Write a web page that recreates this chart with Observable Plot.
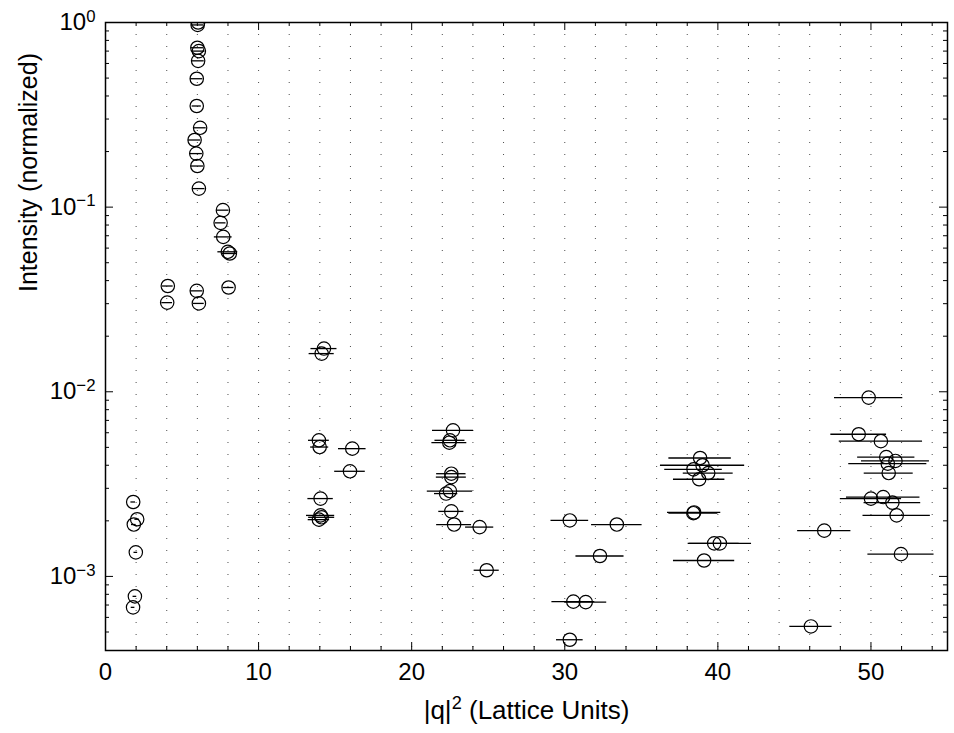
<!DOCTYPE html>
<html><head><meta charset="utf-8">
<script src="https://cdn.jsdelivr.net/npm/d3@7"></script>
<script src="https://cdn.jsdelivr.net/npm/@observablehq/plot@0.6"></script>
<style>body{margin:0;background:#fff} svg{display:block}</style>
</head><body><div id="chart"></div>
<script>
// |q|^2 values (lattice units)
const qsq = [
  1.81, 2.07, 1.85, 1.98, 1.92, 1.80,
  4.07, 4.03,
  6.05, 6.02, 6.00, 6.10, 6.05, 5.96, 5.96, 6.18, 5.82, 5.93, 6.00, 6.10, 5.96, 6.10,
  7.67, 7.52, 7.69, 7.99, 8.12, 8.04,
  14.27, 14.12, 13.94, 13.99, 16.12, 15.97, 14.05, 14.05, 14.12, 13.94,
  22.70, 22.50, 22.46, 22.59, 22.59, 22.50, 22.25, 22.59, 22.77, 24.44, 24.90,
  30.33, 33.40, 32.30, 30.56, 31.37, 30.33,
  38.84, 39.00, 38.41, 39.37, 38.78, 38.45, 38.40, 39.76, 40.13, 39.10,
  49.85, 49.20, 50.65, 51.00, 51.60, 51.10, 51.16, 50.00, 50.80, 51.40, 51.68, 46.95, 51.96, 46.08
];
// normalized intensity
const intensity = [
  2.53e-3, 2.04e-3, 1.91e-3, 1.35e-3, 7.8e-4, 6.8e-4,
  0.0374, 0.0304,
  1.0, 0.97, 0.73, 0.70, 0.62, 0.496, 0.353, 0.269, 0.231, 0.195, 0.167, 0.126, 0.0352, 0.0301,
  0.0963, 0.0822, 0.069, 0.0573, 0.0561, 0.0367,
  0.01714, 0.0161, 5.46e-3, 5.02e-3, 4.92e-3, 3.71e-3, 2.64e-3, 2.14e-3, 2.09e-3, 2.03e-3,
  6.18e-3, 5.46e-3, 5.3e-3, 3.6e-3, 3.45e-3, 2.90e-3, 2.81e-3, 2.25e-3, 1.91e-3, 1.85e-3, 1.08e-3,
  2.01e-3, 1.91e-3, 1.29e-3, 7.3e-4, 7.26e-4, 4.54e-4,
  4.38e-3, 4.0e-3, 3.80e-3, 3.63e-3, 3.36e-3, 2.22e-3, 2.20e-3, 1.51e-3, 1.51e-3, 1.22e-3,
  9.3e-3, 5.89e-3, 5.4e-3, 4.43e-3, 4.22e-3, 4.08e-3, 3.63e-3, 2.64e-3, 2.69e-3, 2.51e-3, 2.14e-3, 1.77e-3, 1.32e-3, 5.36e-4
];
// horizontal (|q|^2) error half-widths
const qErr = [
  0.15, 0.15, 0.15, 0.12, 0.12, 0.12,
  0.35, 0.35,
  0.40, 0.40, 0.40, 0.40, 0.40, 0.40, 0.30, 0.40, 0.40, 0.40, 0.40, 0.40, 0.40, 0.35,
  0.40, 0.35, 0.58, 0.65, 0.50, 0.35,
  0.85, 0.82, 0.68, 0.59, 0.90, 1.00, 0.83, 0.92, 0.85, 0.70,
  1.34, 0.98, 1.14, 0.96, 0.98, 1.48, 0.76, 0.82, 1.14, 0.92, 0.82,
  1.23, 1.65, 1.57, 1.40, 1.37, 0.87,
  2.04, 2.75, 1.88, 1.63, 1.68, 1.74, 1.60, 1.63, 2.07, 2.00,
  2.23, 1.82, 2.72, 1.87, 2.22, 2.55, 1.60, 2.00, 2.40, 1.85, 2.20, 1.74, 2.16, 1.38
];

const xMajorTicks = [0, 10, 20, 30, 40, 50];
const xMinorTicks = [2, 4, 6, 8, 12, 14, 16, 18, 22, 24, 26, 28, 32, 34, 36, 38, 42, 44, 46, 48, 52, 54];
const xGridLines = [2, 4, 6, 8, 10, 12, 14, 16, 18, 20, 22, 24, 26, 28, 30, 32, 34, 36, 38, 40, 42, 44, 46, 48, 50, 52, 54];
const yMajorTicks = [1, 0.1, 0.01, 0.001];
const yTickLabels = ["10^0", "10^\u22121", "10^\u22122", "10^\u22123"];
const yMinorTicks = [
  0.9, 0.8, 0.7, 0.6, 0.5, 0.4, 0.3, 0.2,
  0.09, 0.08, 0.07, 0.06, 0.05, 0.04, 0.03, 0.02,
  0.009, 0.008, 0.007, 0.006, 0.005, 0.004, 0.003, 0.002,
  0.0009, 0.0008, 0.0007, 0.0006, 0.0005
];
const xLabel = "|q|^2 (Lattice Units)";
const yLabel = "Intensity (normalized)";

const data = qsq.map((q, i) => ({q, I: intensity[i], e: qErr[i]}));

const W = 954, H = 733, mL = 105, mR = 7, mT = 22, mB = 83;
const fh = H - mT - mB, fw = W - mL - mR;
const font = "'Liberation Sans', Arial, Helvetica, sans-serif";

const chart = Plot.plot({
  width: W, height: H,
  marginLeft: mL, marginRight: mR, marginTop: mT, marginBottom: mB,
  style: {fontFamily: font, fontSize: "24px", color: "black", background: "white"},
  x: {domain: [0, 55]},
  y: {type: "log", domain: [3.97e-4, 1]},
  marks: [
    Plot.ruleX(xGridLines, {stroke: "#000", strokeOpacity: 0.7, strokeWidth: 1, strokeDasharray: "1,11"}),
    Plot.ruleX(xMajorTicks, {insetTop: fh - 8, stroke: "black", strokeWidth: 1}),
    Plot.ruleX(xMajorTicks, {insetBottom: fh - 8, stroke: "black", strokeWidth: 1}),
    Plot.ruleX(xMinorTicks, {insetTop: fh - 4, stroke: "black", strokeWidth: 1}),
    Plot.ruleX(xMinorTicks, {insetBottom: fh - 4, stroke: "black", strokeWidth: 1}),
    Plot.ruleY(yMajorTicks, {insetRight: fw - 8, stroke: "black", strokeWidth: 1}),
    Plot.ruleY(yMajorTicks, {insetLeft: fw - 8, stroke: "black", strokeWidth: 1}),
    Plot.ruleY(yMinorTicks, {insetRight: fw - 4, stroke: "black", strokeWidth: 1}),
    Plot.ruleY(yMinorTicks, {insetLeft: fw - 4, stroke: "black", strokeWidth: 1}),
    Plot.ruleY(data, {y: "I", x1: d => d.q - d.e, x2: d => d.q + d.e, stroke: "black", strokeWidth: 1.3, clip: true}),
    Plot.dot(data, {x: "q", y: "I", r: 6.7, stroke: "black", strokeWidth: 1.2, fill: "none", clip: true}),
    Plot.axisX({ticks: xMajorTicks, tickSize: 0, tickPadding: 12, label: null, fontSize: 24}),
    Plot.axisY({ticks: yMajorTicks, tickSize: 0, tickPadding: 10, label: null, fontSize: 24,
      tickFormat: d => yTickLabels[yMajorTicks.indexOf(d)]}),
    Plot.text([xLabel], {text: d => d, frameAnchor: "bottom", dy: 68, fontSize: 26}),
    Plot.text([yLabel], {text: d => d, frameAnchor: "top-left", textAnchor: "middle", dx: -86, dy: 150, rotate: -90, fontSize: 25}),
    Plot.frame({stroke: "black", strokeWidth: 1.5})
  ]
});

// render exponents as real superscript text
d3.select(chart).selectAll("text").each(function() {
  const t = this.textContent;
  if (t.includes("^") && this.childElementCount === 0) {
    const idx = t.indexOf("^");
    const base = t.slice(0, idx);
    const rest = t.slice(idx + 1);
    const m = rest.match(/^(\S+)(.*)$/);
    const sup = m ? m[1] : rest;
    const tail = m ? m[2] : "";
    const sel = d3.select(this);
    sel.text(base);
    sel.append("tspan").attr("dy", "-0.5em").attr("font-size", "0.7em").text(sup);
    if (tail) sel.append("tspan").attr("dy", "0.35em").text(tail);
  }
});

document.getElementById("chart").appendChild(chart);
</script>
</body></html>
